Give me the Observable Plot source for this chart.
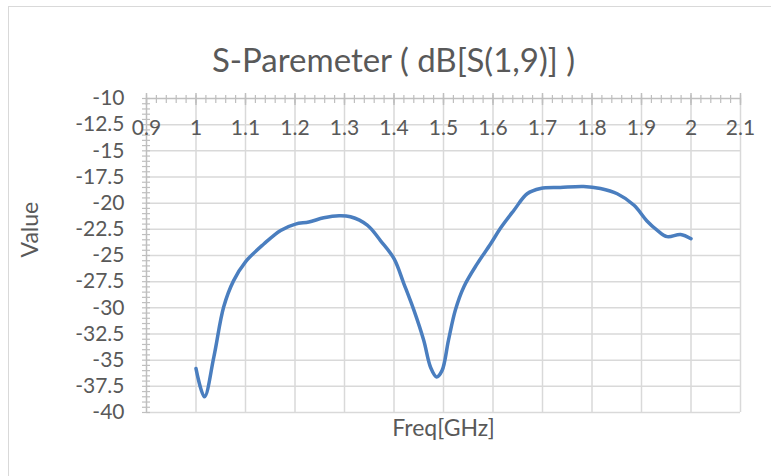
<!DOCTYPE html>
<html>
<head>
<meta charset="utf-8">
<script src="https://cdn.jsdelivr.net/npm/d3@7"></script>
<script src="https://cdn.jsdelivr.net/npm/@observablehq/plot@0.6"></script>
<style>
  html, body { margin: 0; padding: 0; background: #fff; overflow: hidden; }
  #wrap { position: relative; width: 771px; height: 476px; }
  #border { position: absolute; left: 8px; top: 6px; width: 800px; height: 500px; border: 1.5px solid #d9d9d9; box-sizing: border-box; }
  #chart { position: absolute; left: 0; top: 0; }
</style>
</head>
<body>
<div id="wrap"><div id="border"></div><div id="chart"></div></div>
<script>
const title = "S-Paremeter ( dB[S(1,9)] )";
const xLabel = "Freq[GHz]";
const yLabel = "Value";

const freq = [1.0, 1.017, 1.036, 1.056, 1.076, 1.1, 1.137, 1.171, 1.201, 1.228, 1.258, 1.289, 1.312, 1.346, 1.373, 1.4, 1.42, 1.44, 1.46, 1.474, 1.486, 1.497, 1.51, 1.524, 1.541, 1.568, 1.595, 1.615, 1.642, 1.669, 1.696, 1.736, 1.783, 1.817, 1.851, 1.885, 1.911, 1.932, 1.952, 1.979, 2.0];
const dB = [-35.8, -38.5, -34.7, -29.9, -27.4, -25.6, -23.9, -22.6, -22.0, -21.8, -21.4, -21.2, -21.3, -22.1, -23.6, -25.3, -27.7, -30.2, -33.1, -35.7, -36.6, -36.0, -33.1, -30.2, -28.0, -25.8, -23.9, -22.4, -20.7, -19.1, -18.6, -18.5, -18.4, -18.6, -19.1, -20.2, -21.7, -22.6, -23.2, -23.0, -23.4];

const xTicks = [0.9, 1, 1.1, 1.2, 1.3, 1.4, 1.5, 1.6, 1.7, 1.8, 1.9, 2, 2.1];
const xTickLabels = ["0.9", "1", "1.1", "1.2", "1.3", "1.4", "1.5", "1.6", "1.7", "1.8", "1.9", "2", "2.1"];
const yTicks = [-10, -12.5, -15, -17.5, -20, -22.5, -25, -27.5, -30, -32.5, -35, -37.5, -40];
const yTickLabels = ["-10", "-12.5", "-15", "-17.5", "-20", "-22.5", "-25", "-27.5", "-30", "-32.5", "-35", "-37.5", "-40"];
const xMinorTicks = d3.range(0, 61).map(i => +(0.9 + i * 0.02).toFixed(2));
const yMinorTicks = d3.range(0, 61).map(i => -10 - i * 0.5);

const data = freq.map((f, i) => ({f, v: dB[i]}));
const labelColor = "#595959";
const axisColor = "#bfbfbf";
const gridColor = "#d9d9d9";

const chart = Plot.plot({
  width: 771,
  height: 476,
  marginLeft: 146,
  marginRight: 31,
  marginTop: 98,
  marginBottom: 64,
  style: {fontFamily: "Lato, sans-serif", background: "transparent", overflow: "visible"},
  x: {domain: [0.9, 2.1]},
  y: {domain: [-40, -10]},
  marks: [
    Plot.gridX(xTicks.slice(1), {stroke: gridColor, strokeOpacity: 1, strokeWidth: 1.5}),
    Plot.gridY(yTicks.slice(1), {stroke: gridColor, strokeOpacity: 1, strokeWidth: 1.5}),
    // y axis line and crossing minor ticks
    Plot.ruleX([0.9], {stroke: axisColor, strokeWidth: 1.5}),
    Plot.axisY(yMinorTicks, {anchor: "left", tickSize: 8, dx: 4, tickFormat: () => "", stroke: axisColor, strokeWidth: 1.2, label: null}),
    // x axis at top with crossing ticks
    Plot.ruleY([-10], {stroke: axisColor, strokeWidth: 1.5}),
    Plot.axisX(xMinorTicks, {anchor: "top", tickSize: 8, dy: 4, tickFormat: () => "", stroke: axisColor, strokeWidth: 1.2, label: null}),
    Plot.axisX(xTicks, {anchor: "top", tickSize: 12, dy: 6, tickFormat: () => "", stroke: axisColor, strokeWidth: 1.5, label: null}),
    // tick labels
    Plot.axisY(yTicks, {anchor: "left", tickSize: 0, tickPadding: 22, tickFormat: (d, i) => yTickLabels[i], fill: labelColor, fontSize: 21, label: null}),
    Plot.text(xTicks, {x: d => d, y: () => -10, dy: 30, text: (d, i) => xTickLabels[i], fill: labelColor, fontSize: 21}),
    // series
    Plot.line(data, {x: "f", y: "v", stroke: "#4a7ebf", strokeWidth: 3.5, curve: "catmull-rom"}),
    // titles
    Plot.text([title], {frameAnchor: "top", dx: -50, dy: -50, text: d => d, fill: labelColor, fontSize: 33}),
    Plot.text([xLabel], {frameAnchor: "bottom", dy: 23, text: d => d, fill: labelColor, fontSize: 23}),
    Plot.text([yLabel], {frameAnchor: "left", dx: -116, dy: 2, rotate: -90, text: d => d, fill: labelColor, fontSize: 23})
  ]
});
document.getElementById("chart").appendChild(chart);
</script>
</body>
</html>
